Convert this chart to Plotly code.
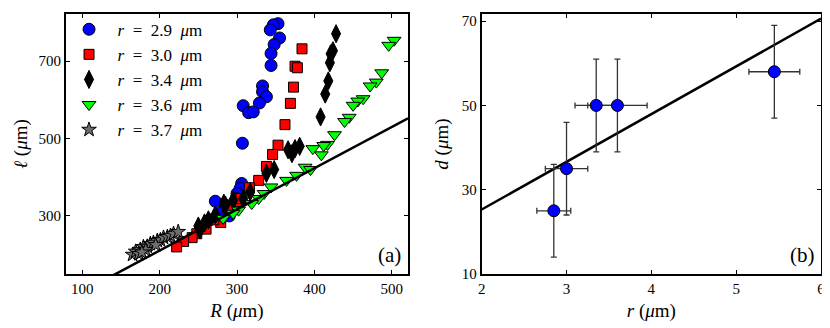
import plotly.graph_objects as go

# panel (a): loop length vs R for several r
R_29 = [353, 347, 343, 355, 348, 344, 344, 333, 333, 338, 329, 308, 315, 321, 307,
        306, 304, 300, 299, 272, 285, 278, 290, 265]
ell_29 = [797, 794, 781, 760, 743, 720, 689, 636, 621, 608, 592, 585, 567, 569, 488,
          384, 371, 358, 345, 338, 328, 307, 300, 290]

R_30 = [384, 375, 378, 373, 369, 362, 353, 346, 338, 328, 316, 299, 288, 279, 260,
        248, 242, 231, 222, 270, 305]
ell_30 = [732, 687, 683, 633, 591, 536, 483, 459, 428, 392, 373, 337, 320, 283, 266,
          254, 244, 234, 220, 290, 345]

R_34 = [428, 424, 421, 420, 418, 414, 408, 381, 375, 366, 371, 348, 338, 317, 308,
        285, 272, 263, 250, 252, 283, 295, 258]
ell_34 = [771, 727, 719, 696, 649, 615, 556, 480, 474, 471, 461, 420, 410, 362, 345,
          328, 303, 290, 274, 264, 333, 340, 282]

R_36 = [503, 496, 487, 480, 472, 463, 456, 450, 445, 439, 426, 417, 412, 398, 409,
        388, 377, 364, 344, 335, 328, 319, 302, 295, 282, 395]
ell_36 = [754, 741, 670, 646, 636, 603, 597, 586, 555, 544, 510, 485, 482, 474, 458,
          426, 405, 392, 375, 358, 345, 332, 315, 307, 294, 420]

R_37 = [165, 169, 175, 179, 184, 188, 192, 197, 201, 205, 210, 214, 218, 224, 173,
        182, 177, 195]
ell_37 = [200, 208, 213, 220, 221, 228, 231, 236, 238, 244, 246, 249, 254, 259, 202,
          212, 206, 225]

fit_a_slope, fit_a_icpt = 1.064, -2.2
fit_a_R = [100, 521]

# panel (b): d vs r
r_pts = [2.85, 3.0, 3.35, 3.6, 5.45]
d_pts = [25, 35, 50, 50, 58]
r_err = [0.2, 0.25, 0.25, 0.35, 0.3]
d_err = [11, 11, 11, 11, 11]
fit_b_r = [2, 6]
fit_b_d = [25.3, 70.6]

SERIF = 'Liberation Serif'
SP = '\u2002'
series = [
    (R_29, ell_29, '2.9', 'circle', '#0000ff', 12),
    (R_30, ell_30, '3.0', 'square', '#ff0000', 10),
    (R_34, ell_34, '3.4', 'diamond-tall', '#000000', 13),
    (R_36, ell_36, '3.6', 'triangle-down', '#00ff00', 12),
    (R_37, ell_37, '3.7', 'star', '#6e6e6e', 11),
]

fig = go.Figure()
for xs, ys, r, sym, col, sz in series:
    fig.add_trace(go.Scatter(x=xs, y=ys, mode='markers',
                             name=f'{SP}<i>r</i>{SP}={SP}{r}{SP}<i>μ</i>m',
                             marker=dict(symbol=sym, color=col, size=sz,
                                         line=dict(color='black', width=1)),
                             xaxis='x', yaxis='y'))

fig.add_trace(go.Scatter(x=fit_a_R, y=[fit_a_slope * v + fit_a_icpt for v in fit_a_R],
                         mode='lines', line=dict(color='black', width=2.5),
                         showlegend=False, xaxis='x', yaxis='y'))

fig.add_trace(go.Scatter(x=fit_b_r, y=fit_b_d, mode='lines',
                         line=dict(color='black', width=2.5),
                         showlegend=False, xaxis='x2', yaxis='y2'))
fig.add_trace(go.Scatter(x=r_pts, y=d_pts, mode='markers',
                         marker=dict(symbol='circle', color='#0000ff', size=12,
                                     line=dict(color='black', width=1)),
                         error_x=dict(type='data', array=r_err, color='#333333',
                                      thickness=1.3, width=3),
                         error_y=dict(type='data', array=d_err, color='#333333',
                                      thickness=1.3, width=3),
                         showlegend=False, xaxis='x2', yaxis='y2'))

axis_style = dict(showline=True, mirror='ticks', linecolor='black', linewidth=2,
                  ticks='inside', ticklen=4, tickwidth=1, tickcolor='black',
                  showgrid=False, zeroline=False,
                  tickfont=dict(family=SERIF, size=15, color='black'))
title_font = dict(family=SERIF, size=19, color='black')

# page body has an 8px margin, so the figure is 8px smaller than the window
fig.update_layout(
    width=822, height=320,
    margin=dict(l=58, r=9, t=5, b=54),
    plot_bgcolor='white', paper_bgcolor='white',
    font=dict(family=SERIF),
    xaxis=dict(domain=[0, 0.453], range=[79, 521], tickvals=[100, 200, 300, 400, 500],
               title=dict(text='<i>R</i> (<i>μ</i>m)', font=title_font, standoff=8),
               **axis_style),
    yaxis=dict(range=[150, 822], tickvals=[300, 500, 700],
               title=dict(text='<i>ℓ</i> (<i>μ</i>m)', font=title_font, standoff=6),
               **axis_style),
    xaxis2=dict(domain=[0.5506, 1], range=[2, 6], tickvals=[2, 3, 4, 5, 6],
                anchor='y2',
                title=dict(text='<i>r</i> (<i>μ</i>m)', font=title_font, standoff=8),
                **axis_style),
    yaxis2=dict(range=[10, 71.7], tickvals=[10, 30, 50, 70], anchor='x2',
                title=dict(text='<i>d</i> (<i>μ</i>m)', font=title_font, standoff=8),
                **axis_style),
    legend=dict(x=0.004, y=1.005, xanchor='left', yanchor='top',
                bgcolor='rgba(0,0,0,0)', font=dict(family=SERIF, size=17, color='black'),
                tracegroupgap=0),
    annotations=[
        dict(text='(a)', x=0.447, y=0.02, xref='paper', yref='paper',
             xanchor='right', yanchor='bottom', showarrow=False,
             font=dict(family=SERIF, size=21, color='black')),
        dict(text='(b)', x=0.995, y=0.02, xref='paper', yref='paper',
             xanchor='right', yanchor='bottom', showarrow=False,
             font=dict(family=SERIF, size=21, color='black')),
    ],
)

fig.write_html('out.html')
